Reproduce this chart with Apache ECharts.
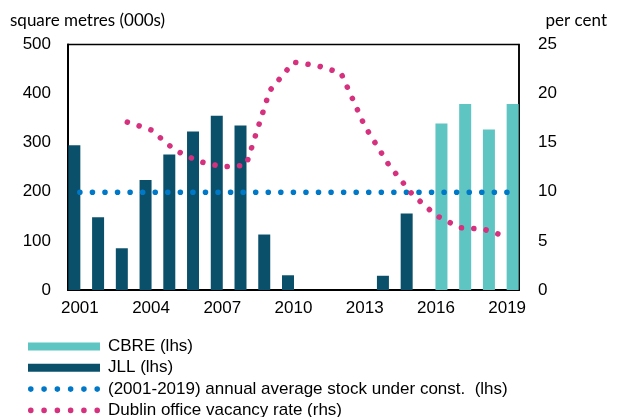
<!DOCTYPE html>
<html>
<head>
<meta charset="utf-8">
<script src="https://cdn.jsdelivr.net/npm/echarts@6/dist/echarts.min.js"></script>
<style>html,body{margin:0;padding:0;background:#fff;}#chart{width:622px;height:417px;}</style>
</head>
<body>
<div id="chart"></div>
<script>
const years = ['2001','2002','2003','2004','2005','2006','2007','2008','2009','2010','2011','2012','2013','2014','2015','2016','2017','2018','2019'];
const jll = [295,148,85,224,276,323,355,335,113,30,0,0,0,29,156,null,null,null,null];
const cbre = [null,null,null,null,null,null,null,null,null,null,null,null,null,null,null,339,379,327,379];
const avgStock = [199,199,199,199,199,199,199,199,199,199,199,199,199,199,199,199,199,199,199];
const vacancy = [null,null,17.1,16.3,14.25,13.1,12.55,12.7,20.3,23.2,22.85,22.1,16.7,12.8,9.75,7.6,6.35,6.2,5.4];

// legend icon: six dots
function dotsPath() {
  let p = '';
  const r = 2.8;
  for (let i = 0; i < 6; i++) {
    const cx = r + i * 13.3;
    p += 'M' + (cx - r) + ',' + r + ' A' + r + ',' + r + ' 0 1,0 ' + (cx + r) + ',' + r + ' A' + r + ',' + r + ' 0 1,0 ' + (cx - r) + ',' + r + ' Z ';
  }
  return 'path://' + p;
}
const dotIcon = dotsPath();

const chart = echarts.init(document.getElementById('chart'), null, {renderer:'canvas'});
const axFont = {fontFamily:'Liberation Sans, Arial, sans-serif', fontSize:17, color:'#000'};
chart.setOption({
  animation:false,
  backgroundColor:'#fff',
  title:[
    {text:'square metres (000s)', left:5, top:7, textStyle:{fontFamily:'Lato', fontWeight:'normal', fontSize:17, color:'#000'}},
    {text:'per cent', right:10, top:7, textStyle:{fontFamily:'Lato', fontWeight:'normal', fontSize:17, color:'#000'}}
  ],
  grid:{left:68, right:103, top:44.5, bottom:127, show:true, borderColor:'#000', borderWidth:1.5, outerBoundsMode:'none'},
  legend:{
    orient:'vertical', left:28, top:338, height:120, width:560, padding:0, itemWidth:72, itemHeight:8, itemGap:4.3,
    textStyle:{fontFamily:'Liberation Sans, Arial, sans-serif', fontSize:17, color:'#000', lineHeight:16, padding:[0,0,0,3]},
    data:[
      {name:'CBRE (lhs)', icon:'rect'},
      {name:'JLL (lhs)', icon:'rect'},
      {name:'(2001-2019) annual average stock under const.  (lhs)', icon:dotIcon},
      {name:'Dublin office vacancy rate (rhs)', icon:dotIcon}
    ]
  },
  xAxis:{
    type:'category', data:years, boundaryGap:true,
    axisLine:{lineStyle:{color:'#000', width:2}},
    axisTick:{show:false},
    axisLabel:Object.assign({interval:2, margin:10}, axFont),
    splitLine:{show:false}
  },
  yAxis:[
    {type:'value', min:0, max:500, interval:100,
     axisLine:{show:true, lineStyle:{color:'#000', width:2}}, axisTick:{show:false},
     axisLabel:Object.assign({margin:17}, axFont), splitLine:{show:false}},
    {type:'value', min:0, max:25, interval:5, position:'right',
     axisLine:{show:true, lineStyle:{color:'#000', width:1.5}}, axisTick:{show:false},
     axisLabel:Object.assign({margin:19}, axFont), splitLine:{show:false}}
  ],
  series:[
    {name:'JLL (lhs)', type:'bar', data:jll, barWidth:12, barGap:'-8%', itemStyle:{color:'#0B506B'}},
    {name:'CBRE (lhs)', type:'bar', data:cbre, barWidth:12, barGap:'-8%', itemStyle:{color:'#5EC5C2'}},
    {name:'(2001-2019) annual average stock under const.  (lhs)', type:'line', data:avgStock,
     symbol:'none', showSymbol:false, itemStyle:{color:'#0078C8'},
     lineStyle:{color:'#0078C8', width:5.6, type:[0.01,12.55], cap:'round'}},
    {name:'Dublin office vacancy rate (rhs)', type:'line', yAxisIndex:1, data:vacancy,
     symbol:'none', showSymbol:false, connectNulls:false, itemStyle:{color:'#D5317E'},
     lineStyle:{color:'#D5317E', width:5.6, type:[0.01,12.4], cap:'round'}}
  ]
});
</script>
</body>
</html>
